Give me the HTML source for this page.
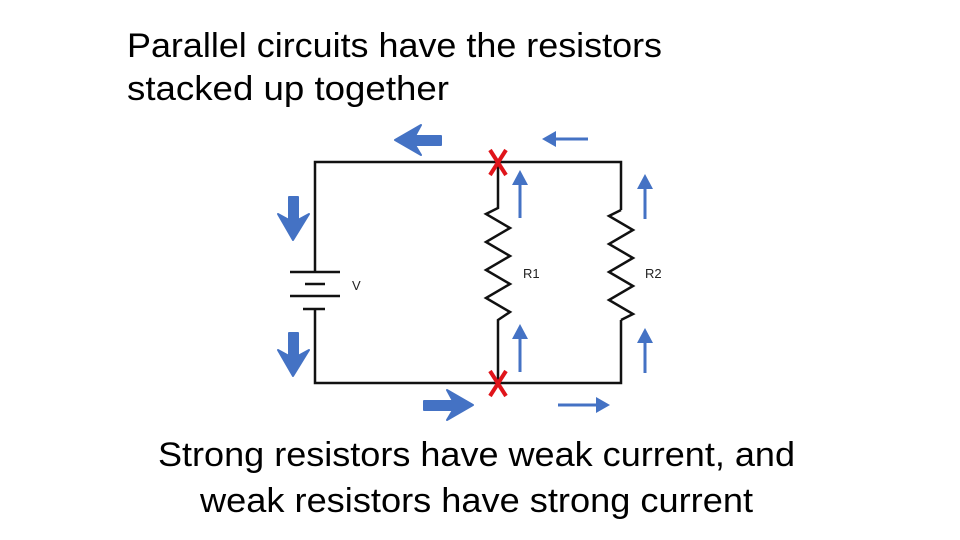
<!DOCTYPE html>
<html><head><style>html,body{margin:0;padding:0;background:#fff}svg{display:block}</style></head>
<body>
<svg width="960" height="540" viewBox="0 0 960 540" xmlns="http://www.w3.org/2000/svg">
<g font-family="Liberation Sans, sans-serif" font-size="34" fill="#000">
<text x="127" y="57" textLength="535" lengthAdjust="spacingAndGlyphs">Parallel circuits have the resistors</text>
<text x="127" y="100" textLength="322" lengthAdjust="spacingAndGlyphs">stacked up together</text>
<text x="158" y="466" textLength="637" lengthAdjust="spacingAndGlyphs">Strong resistors have weak current, and</text>
<text x="200" y="512" textLength="553" lengthAdjust="spacingAndGlyphs">weak resistors have strong current</text>
</g>
<g stroke="#111" stroke-width="2.5" fill="none">
<polyline points="315,272 315,162 621,162 621,210"/>
<polyline points="315,309 315,383 621,383 621,320"/>
<polyline points="498,162 498,208 486,214 510,228 486,242 510,256 486,270 510,284 486,298 510,312 498,320 498,383"/>
<polyline points="621,210 609,216 633,230 609,244 633,258 609,272 633,286 609,300 633,314 621,320"/>
<line x1="290" y1="272" x2="340" y2="272"/>
<line x1="305" y1="284" x2="325" y2="284"/>
<line x1="290" y1="296" x2="340" y2="296"/>
<line x1="303" y1="309" x2="325" y2="309"/>
</g>
<g font-family="Liberation Sans, sans-serif" font-size="13" fill="#222">
<text x="352" y="290">V</text>
<text x="523" y="278">R1</text>
<text x="645" y="278">R2</text>
</g>
<g fill="#4472C4" stroke="#4472C4" stroke-width="2" stroke-linejoin="round">
<polygon points="395,140 421,125 415,136 441,136 441,145 415,145 421,155"/>
<polygon points="293,240 278,214 289,220 289,197 298,197 298,220 309,214"/>
<polygon points="293,376 278,350 289,356 289,333 298,333 298,356 309,350"/>
<polygon points="473,405 447,390 453,401 424,401 424,410 453,410 447,420"/>
</g>
<g fill="#4472C4">
<rect x="552" y="137.5" width="36" height="3"/><polygon points="542,139 556,131 556,147"/>
<rect x="518.5" y="182" width="3" height="36"/><polygon points="520,170 512,185 528,185"/>
<rect x="518.5" y="336" width="3" height="36"/><polygon points="520,324 512,339 528,339"/>
<rect x="643.5" y="186" width="3" height="33"/><polygon points="645,174 637,189 653,189"/>
<rect x="643.5" y="340" width="3" height="33"/><polygon points="645,328 637,343 653,343"/>
<rect x="558" y="403.5" width="40" height="3"/><polygon points="610,405 596,397 596,413"/>
</g>
<g stroke="#e0141a" stroke-width="4">
<line x1="490" y1="150" x2="506" y2="175"/><line x1="506" y1="150" x2="490" y2="175"/>
<line x1="490" y1="371" x2="506" y2="396"/><line x1="506" y1="371" x2="490" y2="396"/>
</g>
</svg>
</body></html>
